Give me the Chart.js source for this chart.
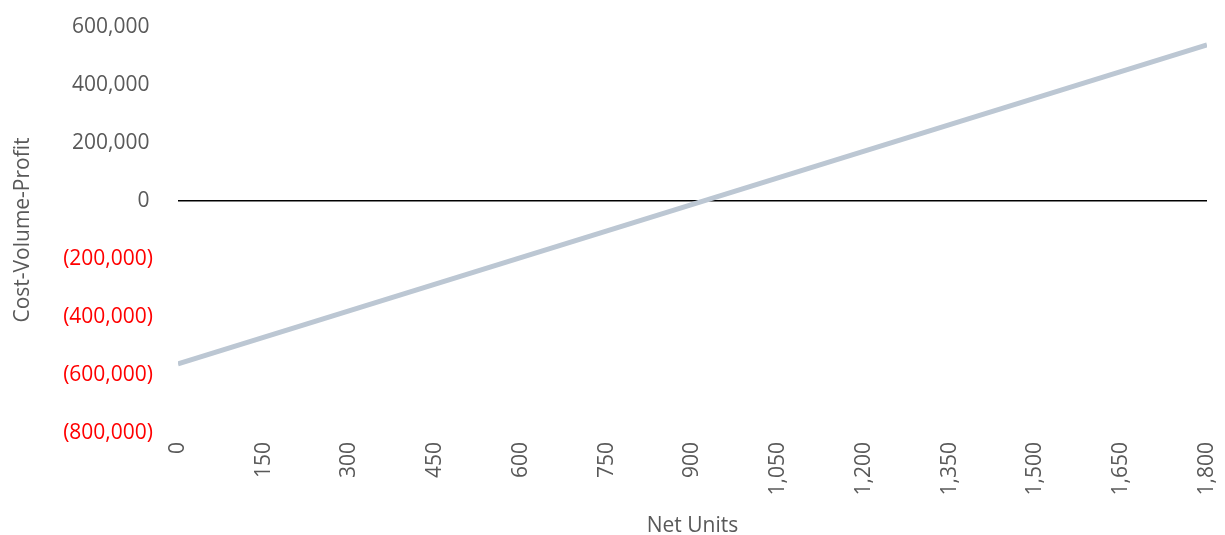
<!DOCTYPE html>
<html>
<head>
<meta charset="utf-8">
<script src="https://cdn.jsdelivr.net/npm/chart.js@4"></script>
<style>
  html, body { margin: 0; padding: 0; background: #ffffff; }
  #wrap { width: 1225px; height: 535px; position: relative; }
</style>
</head>
<body>
<div id="wrap"><canvas id="cvpChart"></canvas></div>
<script>
  // Data
  const netUnits = [0, 1800];
  const profit = [-562000, 538000];
  const yTicks = [-800000, -600000, -400000, -200000, 0, 200000, 400000, 600000];
  const xTicks = [0, 150, 300, 450, 600, 750, 900, 1050, 1200, 1350, 1500, 1650, 1800];

  const textGrey = '#595959';
  const negRed = '#FF0000';
  const font = { family: '"Open Sans", sans-serif', size: 21 };

  // Accounting style: negatives in parentheses, positives padded to line up
  function fmtAccounting(v) {
    const s = Math.abs(v).toLocaleString('en-US');
    return v < 0 ? '(' + s + ')' : s + '\u2009';
  }

  const points = netUnits.map((u, i) => ({ x: u, y: profit[i] }));

  const ctx = document.getElementById('cvpChart').getContext('2d');
  new Chart(ctx, {
    type: 'line',
    data: {
      datasets: [{
        data: points,
        borderColor: '#BCC7D3',
        borderWidth: 5,
        pointRadius: 0,
        fill: false,
        tension: 0,
      }],
    },
    options: {
      responsive: true,
      maintainAspectRatio: false,
      animation: false,
      layout: { padding: { top: 27, right: 18, left: 0, bottom: 0 } },
      plugins: { legend: { display: false }, tooltip: { enabled: false } },
      scales: {
        x: {
          type: 'linear',
          min: 0,
          max: 1800,
          afterBuildTicks: (scale) => { scale.ticks = xTicks.map((v) => ({ value: v })); },
          afterFit: (scale) => {
            scale.height = 102;
            scale.paddingLeft = 0;
            scale.paddingRight = 0;
          },
          ticks: {
            color: textGrey,
            font: font,
            padding: 9,
            minRotation: 90,
            maxRotation: 90,
            callback: (v) => v.toLocaleString('en-US'),
          },
          grid: { display: false, drawTicks: false },
          border: { display: false },
          title: {
            display: true,
            text: 'Net Units',
            color: textGrey,
            font: font,
            padding: { top: 0, bottom: -4 },
          },
        },
        y: {
          min: -800000,
          max: 600000,
          afterBuildTicks: (scale) => { scale.ticks = yTicks.map((v) => ({ value: v })); },
          afterFit: (scale) => {
            scale.width = 178;
            scale.paddingTop = 0;
            scale.paddingBottom = 0;
          },
          ticks: {
            color: (c) => (c.tick && c.tick.value < 0 ? negRed : textGrey),
            font: font,
            padding: 25,
            callback: (v) => fmtAccounting(v),
          },
          grid: {
            drawTicks: false,
            color: (c) => (c.tick && c.tick.value === 0 ? '#000000' : 'rgba(0,0,0,0)'),
            lineWidth: 1.5,
          },
          border: { display: false },
          title: {
            display: true,
            text: 'Cost-Volume-Profit',
            color: textGrey,
            font: font,
            padding: { top: 10, bottom: 0 },
          },
        },
      },
    },
  });
</script>
</body>
</html>
